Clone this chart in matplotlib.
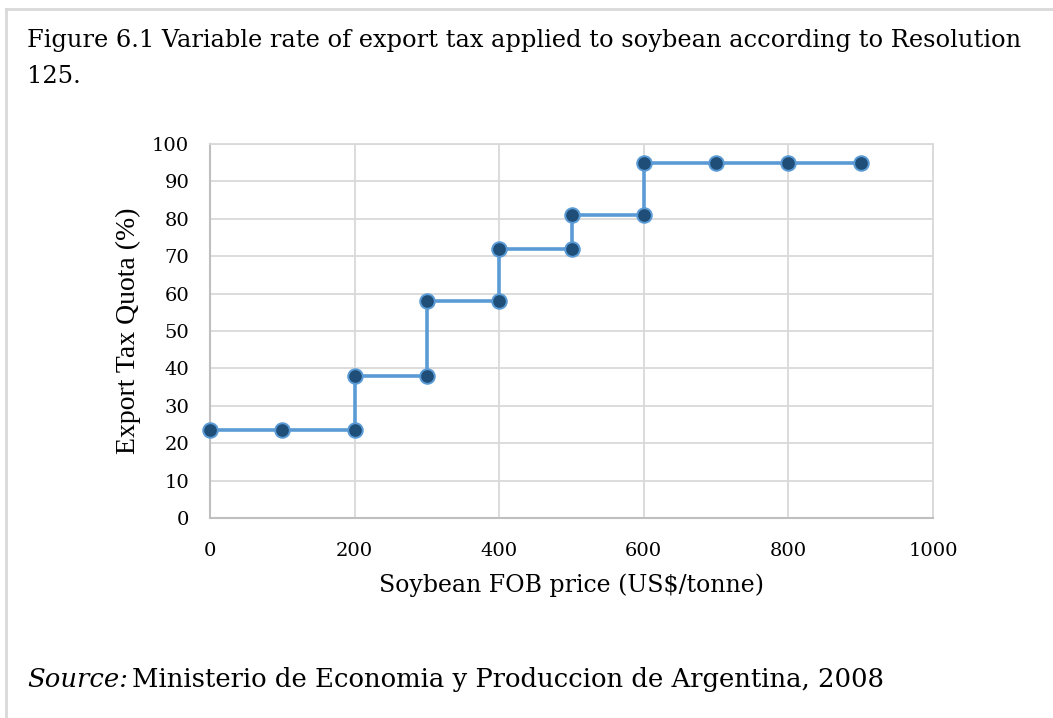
import matplotlib
matplotlib.use('Agg')
import matplotlib.pyplot as plt
from matplotlib.lines import Line2D

# data (step points, x repeated at each jump)
fob_price = [0, 100, 200, 200, 300, 300, 400, 400, 500, 500, 600, 600, 700, 800, 900]
tax_quota = [23.5, 23.5, 23.5, 38, 38, 58, 58, 72, 72, 81, 81, 95, 95, 95, 95]
x_ticks = [0, 200, 400, 600, 800, 1000]
y_ticks = list(range(0, 101, 10))

plt.rcParams['font.family'] = ['DejaVu Serif']

fig = plt.figure(figsize=(10.53, 7.18), dpi=100)
W, H = 1053, 718

# light gray frame (top and left edges only)
grey = '#d9d9d9'
fig.add_artist(Line2D([6 / W, 6 / W], [0, 1 - 8.5 / H], transform=fig.transFigure, color=grey, lw=2))
fig.add_artist(Line2D([6 / W, 1], [1 - 8.5 / H, 1 - 8.5 / H], transform=fig.transFigure, color=grey, lw=2))

fig.text(27 / W, 1 - 47 / H, 'Figure 6.1 Variable rate of export tax applied to soybean according to Resolution',
         fontsize=17.4, va='baseline', ha='left')
fig.text(27 / W, 1 - 83 / H, '125.', fontsize=17.4, va='baseline', ha='left')

ax = fig.add_axes([210 / W, 1 - 518 / H, (933 - 210) / W, (518 - 144) / H])
ax.plot(fob_price, tax_quota, color='#5b9bd5', lw=2.6, marker='o', ms=10.5,
        markerfacecolor='#1f4e79', markeredgecolor='#5b9bd5', markeredgewidth=1.4,
        solid_joinstyle='miter', zorder=3, clip_on=False)

ax.set_xlim(0, 1000)
ax.set_ylim(0, 100)
ax.set_xticks(x_ticks)
ax.set_yticks(y_ticks)
ax.grid(True, color=grey, lw=1.3)
ax.set_axisbelow(True)
ax.tick_params(length=0, labelsize=14)
ax.tick_params(axis='y', pad=15)
ax.tick_params(axis='x', pad=17)
for side in ['top', 'right']:
    ax.spines[side].set_color(grey)
    ax.spines[side].set_linewidth(1.3)
for side in ['left', 'bottom']:
    ax.spines[side].set_color('#bfbfbf')
    ax.spines[side].set_linewidth(1.5)

ax.set_xlabel('Soybean FOB price (US$/tonne)', fontsize=17, labelpad=10)
ax.set_ylabel('Export Tax Quota (%)', fontsize=20, labelpad=8, family='Liberation Serif')

src = fig.text(27 / W, 1 - 687 / H, 'Source:', fontsize=18.6, style='italic', va='baseline', ha='left')
fig.canvas.draw()
bb = src.get_window_extent()
fig.text(bb.x1 / W + 4 / W, 1 - 687 / H, 'Ministerio de Economia y Produccion de Argentina, 2008',
         fontsize=18.6, va='baseline', ha='left')

plt.savefig('out.png', dpi=100)
plt.close()
